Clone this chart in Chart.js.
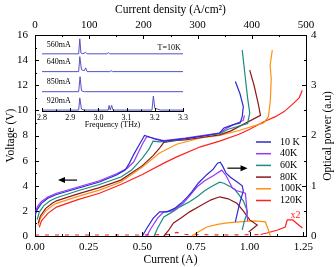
<!DOCTYPE html>
<html>
<head>
<meta charset="utf-8">
<script src="https://cdn.jsdelivr.net/npm/chart.js@4.4.0/dist/chart.umd.min.js"></script>
<style>
    body { margin: 0; background: #fff; }
    #wrap { position: relative; width: 336px; height: 267px; }
    #mainChart { position: absolute; left: 0; top: 0; }
    #insetChart { position: absolute; left: 32px; top: 30px; }
</style>
</head>
<body>
<div id="wrap">
    <canvas id="mainChart" width="336" height="267"></canvas>
    <canvas id="insetChart" width="161" height="100"></canvas>
</div>
<script>
// Temperatures (legend labels)
const temps = ['10 K', '40K', '60K', '80K', '100K', '120K'];

// Voltage vs current, [current (A), voltage (V)]
const iv10K = [[0.00,1.6],[0.01,2.1],[0.03,2.6],[0.06,3.0],[0.10,3.3],[0.20,3.8],[0.30,4.3],[0.38,4.85],[0.42,5.25],[0.44,5.8],[0.46,6.5],[0.48,7.1],[0.50,7.7],[0.51,8.0],[0.53,7.9],[0.56,7.7],[0.60,7.55],[0.70,7.75],[0.80,8.0],[0.86,8.2],[0.88,8.6],[0.92,8.85],[0.955,9.0],[0.965,9.5],[0.97,10.3],[0.955,11.3],[0.933,12.3]];
const iv40K = [[0.00,1.8],[0.01,2.3],[0.03,2.75],[0.06,3.1],[0.10,3.4],[0.20,3.9],[0.30,4.4],[0.38,4.95],[0.43,5.4],[0.46,5.9],[0.48,6.6],[0.50,7.3],[0.52,7.9],[0.55,7.8],[0.60,7.6],[0.70,7.8],[0.80,8.05],[0.86,8.2],[0.89,8.55],[0.93,8.9],[0.97,9.2],[0.975,9.6]];
const iv60K = [[0.01,1.3],[0.02,1.9],[0.04,2.4],[0.07,2.8],[0.10,3.05],[0.20,3.6],[0.30,4.1],[0.40,4.7],[0.45,5.25],[0.50,6.2],[0.53,6.9],[0.55,7.55],[0.58,7.5],[0.62,7.55],[0.70,7.75],[0.80,8.0],[0.86,8.15],[0.90,8.5],[0.99,8.95],[1.00,9.8],[0.99,11.0],[0.98,12.5],[0.965,14.8]];
const iv80K = [[0.015,1.0],[0.025,1.6],[0.05,2.2],[0.08,2.6],[0.10,2.8],[0.20,3.35],[0.30,3.85],[0.40,4.45],[0.50,5.6],[0.55,6.4],[0.58,7.0],[0.60,7.45],[0.66,7.6],[0.70,7.65],[0.80,7.9],[0.86,8.05],[0.91,8.35],[1.05,9.6],[1.04,10.5],[1.02,12.0],[1.00,13.2]];
const iv100K = [[0.015,0.85],[0.025,1.4],[0.05,2.0],[0.08,2.4],[0.10,2.6],[0.20,3.15],[0.30,3.65],[0.40,4.3],[0.50,5.5],[0.58,6.6],[0.66,7.3],[0.77,7.8],[0.86,8.0],[0.95,8.4],[1.065,9.0],[1.087,9.5],[1.096,10.8],[1.10,12.5],[1.095,13.6],[1.105,14.8]];
const iv120K = [[0.02,0.7],[0.03,1.2],[0.06,1.8],[0.10,2.3],[0.20,2.9],[0.30,3.4],[0.40,4.1],[0.50,4.9],[0.60,5.8],[0.66,6.3],[0.77,7.1],[0.86,7.55],[0.95,8.1],[1.00,8.5],[1.065,9.1],[1.12,9.5],[1.16,9.9],[1.20,10.5],[1.23,11.0],[1.245,11.6]];

// Optical power vs current, [current (A), power (a.u.)]
const pl10K = [[0.50,0],[0.52,0.15],[0.55,0.35],[0.58,0.48],[0.615,0.48],[0.65,0.55],[0.68,0.65],[0.71,0.78],[0.73,0.88],[0.76,1.05],[0.80,1.22],[0.83,1.33],[0.85,1.45],[0.863,1.47],[0.875,1.38],[0.89,1.25],[0.91,1.17],[0.94,1.08],[0.965,1.0],[0.97,0.9],[0.95,0.6],[0.933,0.28]];
const pl40K = [[0.52,0],[0.54,0.15],[0.57,0.35],[0.60,0.48],[0.64,0.5],[0.69,0.65],[0.72,0.8],[0.755,0.98],[0.79,1.1],[0.83,1.2],[0.87,1.31],[0.89,1.2],[0.92,0.95],[0.94,0.9],[0.98,0.85],[0.985,0.6],[0.99,0.3]];
const pl60K = [[0.555,0],[0.57,0.15],[0.60,0.38],[0.64,0.48],[0.675,0.58],[0.72,0.68],[0.755,0.78],[0.79,0.9],[0.82,0.98],[0.86,1.07],[0.88,1.05],[0.91,0.98],[0.93,0.93],[0.95,0.82],[0.97,0.7],[0.99,0.48],[0.975,0.3],[0.965,0.12]];
const pl80K = [[0.60,0],[0.62,0.1],[0.645,0.26],[0.68,0.36],[0.72,0.48],[0.77,0.6],[0.82,0.72],[0.86,0.78],[0.90,0.74],[0.94,0.65],[0.97,0.5],[1.00,0.32],[1.035,0.22],[0.995,0.08]];
const pl100K = [[0.73,0],[0.76,0.08],[0.80,0.18],[0.85,0.23],[0.895,0.26],[0.95,0.28],[1.02,0.3],[1.05,0.29],[1.073,0.28],[1.087,0.12],[1.096,0]];
const pl120K = [[0.00,0.02],[0.20,0.02],[0.50,0.02],[0.62,0.03],[0.66,0.07],[0.70,0.03],[0.90,0.02],[1.05,0.03],[1.08,0.06],[1.13,0.12],[1.165,0.18],[1.175,0.32],[1.20,0.32],[1.245,0.16]];

// Inset spectra at T=10K, [frequency (THz), intensity]
const specLabels = ['560mA', '640mA', '850mA', '920mA'];
const specOffsets = [3.05, 2.1, 1.03, 0.05];
const spec560 = [[2.80,0],[2.93,0],[2.934,0.8],[2.938,0.05],[2.945,0],[2.955,0.08],[2.96,0],[3.03,0],[3.035,0.06],[3.04,0],[3.3,0]];
const spec640 = [[2.80,0],[2.93,0],[2.934,0.8],[2.94,0.1],[2.95,0.05],[2.955,0.2],[2.96,0],[3.04,0],[3.045,0.05],[3.05,0],[3.3,0]];
const spec850 = [[2.80,0],[2.93,0],[2.935,0.8],[2.94,0.05],[2.95,0],[3.3,0]];
const spec920 = [[2.80,0],[2.93,0],[2.934,0.65],[2.94,0.05],[2.95,0],[3.035,0],[3.038,0.25],[3.042,0],[3.047,0.25],[3.052,0],[3.19,0],[3.195,0.75],[3.2,0.1],[3.21,0.05],[3.22,0],[3.3,0]];

const colors = ['#2b2bd0', '#9a35ff', '#1d8c80', '#8b1a1a', '#ff9010', '#ff2020'];
const serif = "'Liberation Serif', 'Times New Roman', serif";

Chart.defaults.font.family = serif;
Chart.defaults.color = '#000';

const toXY = arr => arr.map(p => ({ x: p[0], y: p[1] }));

// ticks drawn inside the plot frame, with a minor tick half way
const inwardTicks = {
    id: 'inwardTicks',
    afterDraw(chart, args, opts) {
        const ctx = chart.ctx;
        const area = chart.chartArea;
        const major = opts.major || 4;
        ctx.save();
        ctx.strokeStyle = '#000';
        ctx.lineWidth = 1;
        Object.values(chart.scales).forEach(scale => {
            if (!scale.options.display || scale.ticks.length < 2) return;
            const step = scale.ticks[1].value - scale.ticks[0].value;
            const marks = [];
            scale.ticks.forEach(t => {
                marks.push([t.value, major]);
                marks.push([t.value + step / 2, major / 2]);
            });
            marks.forEach(([v, len]) => {
                if (v > scale.max + 1e-9) return;
                const p = Math.round(scale.getPixelForValue(v)) + 0.5;
                ctx.beginPath();
                if (scale.position === 'bottom') { ctx.moveTo(p, area.bottom); ctx.lineTo(p, area.bottom - len); }
                else if (scale.position === 'top') { ctx.moveTo(p, area.top); ctx.lineTo(p, area.top + len); }
                else if (scale.position === 'left') { ctx.moveTo(area.left, p); ctx.lineTo(area.left + len, p); }
                else { ctx.moveTo(area.right, p); ctx.lineTo(area.right - len, p); }
                ctx.stroke();
            });
        });
        ctx.restore();
    }
};

function drawArrow(ctx, x1, y1, x2, y2) {
    const dir = Math.sign(x2 - x1);
    ctx.beginPath();
    ctx.moveTo(x1, y1);
    ctx.lineTo(x2 - dir * 5, y2);
    ctx.stroke();
    ctx.beginPath();
    ctx.moveTo(x2, y2);
    ctx.lineTo(x2 - dir * 7, y2 - 3);
    ctx.lineTo(x2 - dir * 7, y2 + 3);
    ctx.closePath();
    ctx.fill();
}

// legend, arrows, "x2" note and the right-hand title
const extras = {
    id: 'extras',
    afterDraw(chart) {
        const ctx = chart.ctx;
        const { x, yV, yP } = chart.scales;
        ctx.save();

        ctx.font = '10px ' + serif;
        ctx.textBaseline = 'middle';
        ctx.textAlign = 'left';
        temps.forEach((t, i) => {
            const y = 142 + i * 11.7;
            ctx.strokeStyle = colors[i];
            ctx.lineWidth = 1.5;
            ctx.beginPath();
            ctx.moveTo(256, y);
            ctx.lineTo(271, y);
            ctx.stroke();
            ctx.fillStyle = '#000';
            ctx.fillText(t, 280, y);
        });

        ctx.strokeStyle = '#000';
        ctx.fillStyle = '#000';
        ctx.lineWidth = 1.2;
        const ya = yV.getPixelForValue(4.45);
        drawArrow(ctx, x.getPixelForValue(0.196), ya, x.getPixelForValue(0.107), ya);
        const yb = yP.getPixelForValue(1.35);
        drawArrow(ctx, x.getPixelForValue(0.896), yb, x.getPixelForValue(0.99), yb);

        ctx.fillStyle = colors[5];
        ctx.font = '10px ' + serif;
        ctx.textAlign = 'center';
        ctx.fillText('x2', x.getPixelForValue(1.213), yP.getPixelForValue(0.42));

        ctx.fillStyle = '#000';
        ctx.font = '11.5px ' + serif;
        ctx.translate(328, 136);
        ctx.rotate(-Math.PI / 2);
        ctx.fillText('Optical power (a.u)', 0, 0);
        ctx.restore();
    }
};

const ivCurves = [iv10K, iv40K, iv60K, iv80K, iv100K, iv120K];
const lightCurves = [pl10K, pl40K, pl60K, pl80K, pl100K, pl120K];

const datasets = [];
ivCurves.forEach((c, i) => {
    datasets.push({
        label: temps[i], data: toXY(c), xAxisID: 'x', yAxisID: 'yV',
        borderColor: colors[i], borderWidth: 1.2, pointRadius: 0, tension: 0
    });
});
lightCurves.forEach((c, i) => {
    const ds = {
        label: temps[i] + ' power', data: toXY(c), xAxisID: 'x', yAxisID: 'yP',
        borderColor: colors[i], borderWidth: 1.2, pointRadius: 0, tension: 0, clip: 3
    };
    if (i === 5) {
        // noisy near-zero part of the 120K trace looks dashed
        ds.segment = { borderDash: s => (s.p1.parsed.x <= 1.05 ? [4, 6] : undefined) };
    }
    datasets.push(ds);
});

const axisBase = {
    type: 'linear',
    grid: { display: false, drawTicks: false },
    border: { display: true, color: '#000', width: 1 },
};

new Chart(document.getElementById('mainChart'), {
    type: 'line',
    data: { datasets: datasets },
    options: {
        responsive: false,
        animation: false,
        layout: { padding: 0 },
        plugins: { legend: { display: false }, tooltip: { enabled: false }, inwardTicks: { major: 4 } },
        scales: {
            x: {
                ...axisBase, position: 'bottom', min: 0, max: 1.262,
                ticks: { stepSize: 0.25, includeBounds: false, padding: 5, autoSkip: false, maxRotation: 0, font: { size: 11 }, callback: v => v.toFixed(2) },
                title: { display: true, text: 'Current (A)', font: { size: 11.5 }, padding: 0 },
                afterFit: s => { s.height = 31; }
            },
            x2: {
                ...axisBase, position: 'top', min: 0, max: 500,
                ticks: { stepSize: 100, padding: 3, autoSkip: false, maxRotation: 0, font: { size: 11 } },
                title: { display: true, text: 'Current density (A/cm\u00B2)', font: { size: 11.5 }, padding: 3 },
                afterFit: s => { s.height = 35; }
            },
            yV: {
                ...axisBase, position: 'left', min: 0, max: 16,
                ticks: { stepSize: 2, padding: 7, autoSkip: false, font: { size: 11 } },
                title: { display: true, text: 'Voltage (V)', font: { size: 11.5 }, padding: 4 },
                afterFit: s => { s.width = 35; }
            },
            yP: {
                ...axisBase, position: 'right', min: 0, max: 4,
                ticks: { stepSize: 1, padding: 5, autoSkip: false, font: { size: 11 } },
                afterFit: s => { s.width = 30; }
            }
        }
    },
    plugins: [inwardTicks, extras]
});

// inset: emission spectra
const specs = [spec560, spec640, spec850, spec920];

const insetText = {
    id: 'insetText',
    afterDraw(chart) {
        const ctx = chart.ctx;
        const { x, y } = chart.scales;
        ctx.save();
        ctx.fillStyle = '#000';
        ctx.font = '8px ' + serif;
        ctx.textBaseline = 'middle';
        ctx.textAlign = 'left';
        specLabels.forEach((t, i) => {
            ctx.fillText(t, x.getPixelForValue(2.817), y.getPixelForValue(specOffsets[i] + 0.5));
        });
        ctx.fillText('T=10K', x.getPixelForValue(3.21), y.getPixelForValue(specOffsets[0] + 0.3));
        ctx.restore();
    }
};

new Chart(document.getElementById('insetChart'), {
    type: 'line',
    data: {
        datasets: specs.map((s, i) => ({
            label: specLabels[i],
            data: s.map(p => ({ x: p[0], y: p[1] + specOffsets[i] })),
            borderColor: '#5050c8', borderWidth: 1, pointRadius: 0, tension: 0, clip: 2
        }))
    },
    options: {
        responsive: false,
        animation: false,
        layout: { padding: { left: 10, right: 10, top: 6, bottom: 0 } },
        plugins: { legend: { display: false }, tooltip: { enabled: false }, inwardTicks: { major: 3 } },
        scales: {
            x: {
                ...axisBase, position: 'bottom', min: 2.8, max: 3.3,
                ticks: { stepSize: 0.1, padding: 2, autoSkip: false, maxRotation: 0, font: { size: 8 }, callback: v => v.toFixed(1) },
                title: { display: true, text: 'Frequency (THz)', font: { size: 8 }, padding: 0 },
                afterFit: s => { s.height = 19; }
            },
            y: { type: 'linear', display: false, min: 0, max: 4 }
        }
    },
    plugins: [inwardTicks, insetText]
});
</script>
</body>
</html>
